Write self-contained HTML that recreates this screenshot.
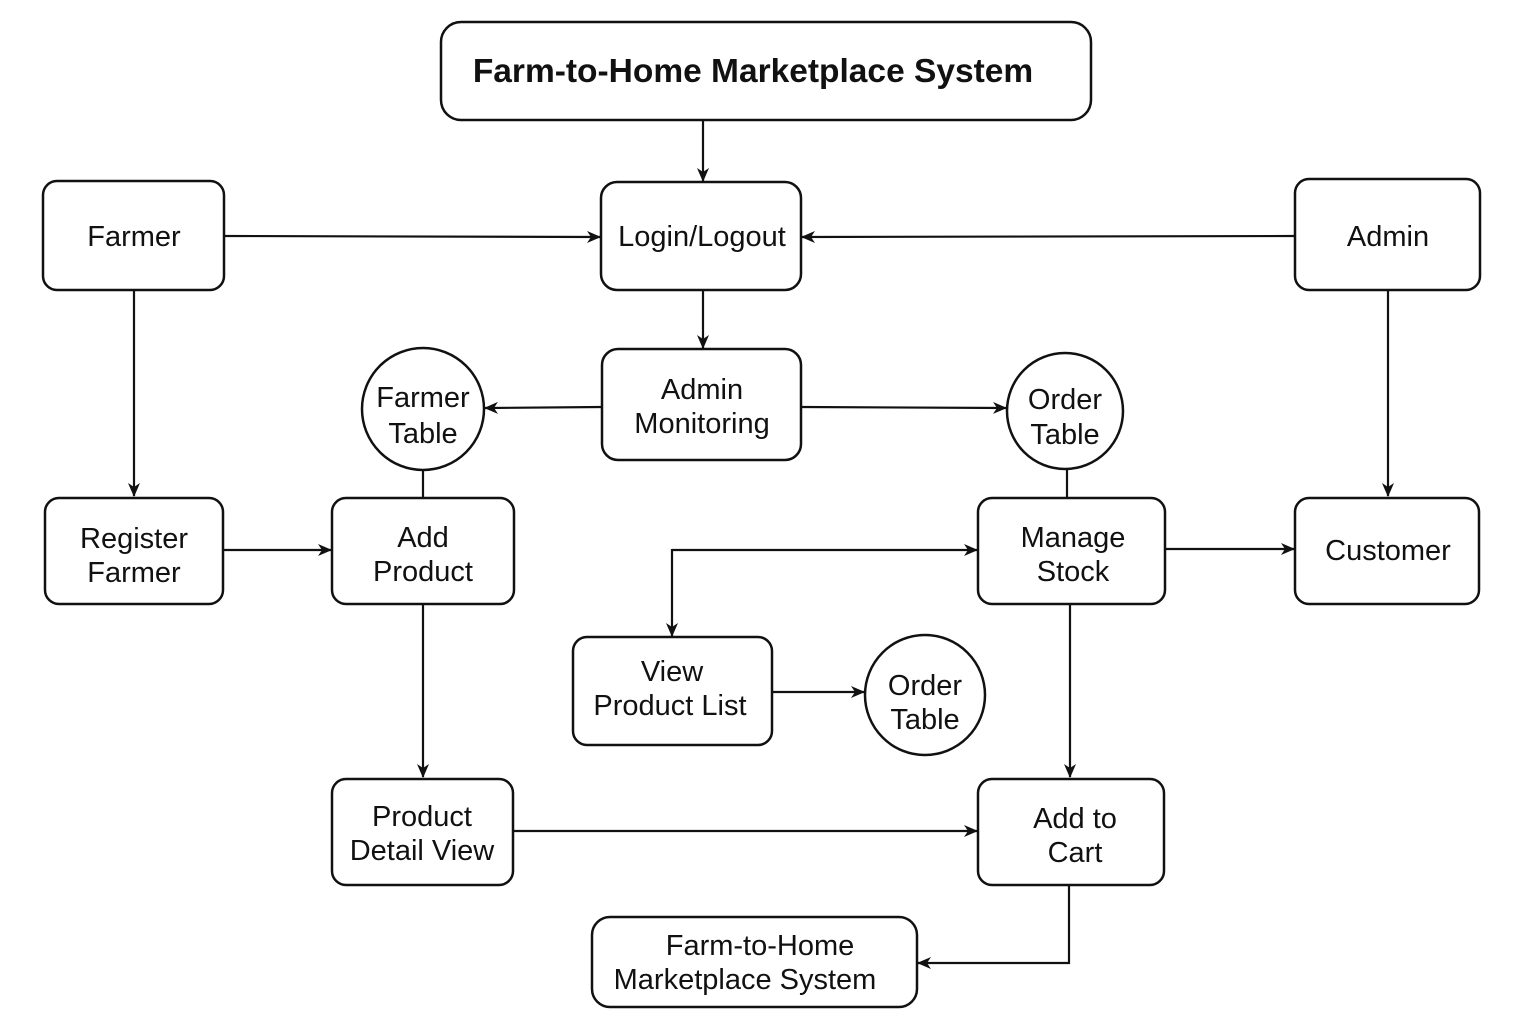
<!DOCTYPE html>
<html><head><meta charset="utf-8"><style>
html,body{margin:0;padding:0;background:#fff;}
svg{display:block;}
text{font-family:"Liberation Sans",Arial,sans-serif;font-size:29px;fill:#111;text-anchor:middle;}
</style></head><body>
<svg width="1536" height="1024" viewBox="0 0 1536 1024" xmlns="http://www.w3.org/2000/svg">
<defs>
<marker id="a" markerWidth="14" markerHeight="12" refX="13" refY="6" orient="auto" markerUnits="userSpaceOnUse">
<path d="M0,0 L14,6 L0,12 L4,6 z" fill="#111"/></marker>
</defs>
<g fill="none" stroke="#111" stroke-width="2.5">
<rect x="441" y="22" width="650" height="98" rx="20"/>
<rect x="601" y="182" width="200" height="108" rx="16"/>
<rect x="43" y="181" width="181" height="109" rx="14"/>
<rect x="1295" y="179" width="185" height="111" rx="14"/>
<rect x="602" y="349" width="199" height="111" rx="16"/>
<circle cx="423" cy="409" r="61"/>
<circle cx="1065" cy="411" r="58"/>
<rect x="45" y="498" width="178" height="106" rx="14"/>
<rect x="332" y="498" width="182" height="106" rx="14"/>
<rect x="978" y="498" width="187" height="106" rx="14"/>
<rect x="1295" y="498" width="184" height="106" rx="14"/>
<rect x="573" y="637" width="199" height="108" rx="14"/>
<circle cx="925" cy="695" r="60"/>
<rect x="332" y="779" width="181" height="106" rx="14"/>
<rect x="978" y="779" width="186" height="106" rx="14"/>
<rect x="592" y="917" width="325" height="90" rx="18"/>
</g>
<g fill="none" stroke="#111" stroke-width="2.2">
<line x1="703" y1="120" x2="703" y2="181" marker-end="url(#a)"/>
<line x1="224" y1="236" x2="600" y2="237" marker-end="url(#a)"/>
<line x1="1295" y1="236" x2="802" y2="237" marker-end="url(#a)"/>
<line x1="703" y1="290" x2="703" y2="348" marker-end="url(#a)"/>
<line x1="602" y1="407" x2="485" y2="408" marker-end="url(#a)"/>
<line x1="801" y1="407" x2="1006" y2="408" marker-end="url(#a)"/>
<line x1="134" y1="290" x2="134" y2="496" marker-end="url(#a)"/>
<line x1="1388" y1="290" x2="1388" y2="496" marker-end="url(#a)"/>
<line x1="423" y1="470" x2="423" y2="498"/>
<line x1="1067" y1="469" x2="1067" y2="498"/>
<line x1="223" y1="550" x2="331" y2="550" marker-end="url(#a)"/>
<line x1="1165" y1="549" x2="1294" y2="549" marker-end="url(#a)"/>
<line x1="672" y1="550" x2="977" y2="550" marker-end="url(#a)"/>
<line x1="672" y1="549" x2="672" y2="636" marker-end="url(#a)"/>
<line x1="423" y1="604" x2="423" y2="777" marker-end="url(#a)"/>
<line x1="772" y1="692" x2="864" y2="692" marker-end="url(#a)"/>
<line x1="1070" y1="604" x2="1070" y2="777" marker-end="url(#a)"/>
<line x1="513" y1="831" x2="977" y2="831" marker-end="url(#a)"/>
<polyline points="1069,885 1069,963 918,963" marker-end="url(#a)"/>
</g>
<text x="753" y="82" style="font-weight:bold;font-size:33.5px">Farm-to-Home Marketplace System</text>
<text x="702" y="246">Login/Logout</text>
<text x="134" y="246">Farmer</text>
<text x="1388" y="246">Admin</text>
<text x="702" y="399">Admin</text>
<text x="702" y="433">Monitoring</text>
<text x="423" y="407">Farmer</text>
<text x="423" y="443">Table</text>
<text x="1065" y="409">Order</text>
<text x="1065" y="444">Table</text>
<text x="134" y="548">Register</text>
<text x="134" y="582">Farmer</text>
<text x="423" y="547">Add</text>
<text x="423" y="581">Product</text>
<text x="1073" y="547">Manage</text>
<text x="1073" y="581">Stock</text>
<text x="1388" y="560">Customer</text>
<text x="672" y="681">View</text>
<text x="670" y="715">Product List</text>
<text x="925" y="695">Order</text>
<text x="925" y="729">Table</text>
<text x="422" y="826">Product</text>
<text x="422" y="860">Detail View</text>
<text x="1075" y="828">Add to</text>
<text x="1075" y="862">Cart</text>
<text x="760" y="955">Farm-to-Home</text>
<text x="745" y="989">Marketplace System</text>
</svg>
</body></html>
